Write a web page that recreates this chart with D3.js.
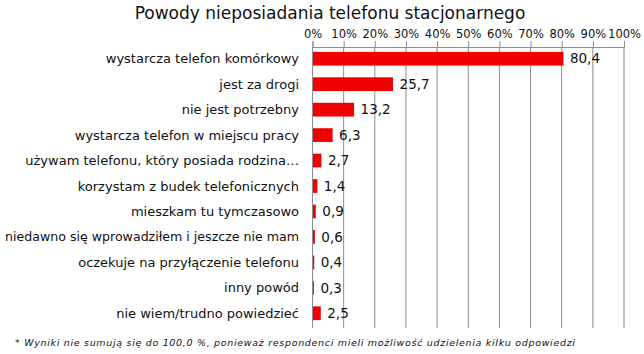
<!DOCTYPE html>
<html>
<head>
<meta charset="utf-8">
<script src="https://cdn.jsdelivr.net/npm/d3@7"></script>
<style>
  body { margin: 0; background: #fff; }
  text { font-family: "DejaVu Sans", Verdana, sans-serif; fill: #111; }
</style>
</head>
<body>
<div id="wykres"></div>
<script>
const width = 644;
const height = 354;

// Dane
const categories = [
  "wystarcza telefon komórkowy",
  "jest za drogi",
  "nie jest potrzebny",
  "wystarcza telefon w miejscu pracy",
  "używam telefonu, który posiada rodzina…",
  "korzystam z budek telefonicznych",
  "mieszkam tu tymczasowo",
  "niedawno się wprowadziłem i jeszcze nie mam",
  "oczekuje na przyłączenie telefonu",
  "inny powód",
  "nie wiem/trudno powiedzieć"
];
const values = [80.4, 25.7, 13.2, 6.3, 2.7, 1.4, 0.9, 0.6, 0.4, 0.3, 2.5];
const xTicks = [0, 10, 20, 30, 40, 50, 60, 70, 80, 90, 100];

const title = "Powody nieposiadania telefonu stacjonarnego";
const footnote = "* Wyniki nie sumują się do 100,0 %, ponieważ respondenci mieli możliwość udzielenia kilku odpowiedzi";

const plotTop = 47, plotBottom = 328;
const labelRight = 299, labelMaxWidth = 294;

const svg = d3.select("#wykres")
    .append("svg")
    .attr("width", width)
    .attr("height", height);

const x = d3.scaleLinear().domain([0, 100]).range([312.5, 624]);
const y = d3.scaleBand().domain(categories).range([46, 326]).paddingInner(0.46).paddingOuter(0.23);

const fmt = v => v.toFixed(1).replace(".", ",");

// Tytuł
svg.append("text")
    .attr("x", 330)
    .attr("y", 19)
    .attr("text-anchor", "middle")
    .style("font-size", "17px")
    .text(title);

// Siatka pionowa
svg.append("g")
    .selectAll("line")
    .data(xTicks.slice(1))
    .join("line")
    .attr("x1", d => x(d)).attr("x2", d => x(d))
    .attr("y1", plotTop).attr("y2", plotBottom)
    .attr("stroke", "#8c8c8c")
    .attr("stroke-width", 1);

// Oś górna
const xAxis = svg.append("g")
    .attr("transform", `translate(0,${plotTop})`)
    .call(d3.axisTop(x).tickValues(xTicks).tickSize(6).tickFormat(d => d + "%"));
xAxis.select(".domain").attr("stroke", "#8c8c8c");
xAxis.selectAll(".tick line").attr("stroke", "#8c8c8c");
xAxis.selectAll(".tick text")
    .attr("y", -9)
    .style("font-size", "11.5px")
    .style("font-family", "DejaVu Sans")
    .attr("fill", "#111");

// Oś lewa (pionowa linia)
svg.append("line")
    .attr("x1", x(0)).attr("x2", x(0))
    .attr("y1", plotTop).attr("y2", plotBottom)
    .attr("stroke", "#8c8c8c");

// Słupki
svg.append("g")
    .selectAll("rect")
    .data(values)
    .join("rect")
    .attr("x", x(0) + 0.5)
    .attr("y", (d, i) => y(categories[i]))
    .attr("width", d => x(d) - x(0))
    .attr("height", y.bandwidth())
    .attr("fill", "#f20000");

// Etykiety kategorii (najdłuższe ściskamy, żeby się zmieściły)
svg.append("g")
    .selectAll("text")
    .data(categories)
    .join("text")
    .attr("x", labelRight)
    .attr("y", d => y(d) + y.bandwidth() / 2)
    .attr("dy", "0.35em")
    .attr("text-anchor", "end")
    .style("font-size", "13px")
    .text(d => d)
    .each(function() {
        if (this.getComputedTextLength() > labelMaxWidth) {
            d3.select(this).attr("textLength", labelMaxWidth).attr("lengthAdjust", "spacingAndGlyphs");
        }
    });

// Wartości
svg.append("g")
    .selectAll("text")
    .data(values)
    .join("text")
    .attr("x", d => x(d) + 7)
    .attr("y", (d, i) => y(categories[i]) + y.bandwidth() / 2)
    .attr("dy", "0.35em")
    .style("font-size", "13.5px")
    .text(d => fmt(d));

// Przypis
svg.append("text")
    .attr("x", 15)
    .attr("y", 346)
    .style("font-size", "9.5px")
    .style("font-style", "italic")
    .attr("textLength", 560)
    .attr("lengthAdjust", "spacing")
    .text(footnote);
</script>
</body>
</html>
